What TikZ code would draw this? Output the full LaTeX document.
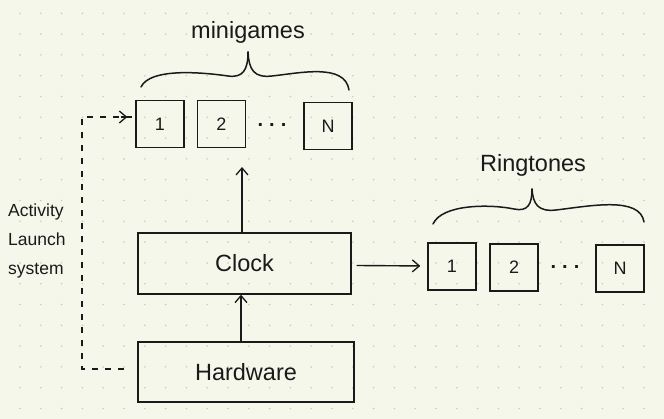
\documentclass[tikz,border=0pt]{standalone}
\usepackage{fontspec}
\setmainfont{Liberation Sans}
\usetikzlibrary{arrows.meta}
\definecolor{bg}{HTML}{F4F7EA}
\definecolor{gdot}{HTML}{C9CCBE}
\definecolor{ink}{HTML}{1A1A1A}
\tikzset{
  box/.style={draw=ink, line width=1.4pt, inner sep=0pt, text=ink},
  sq/.style={box, minimum width=48pt, minimum height=47pt, font=\fontsize{18}{18}\selectfont},
  big/.style={box, font=\fontsize{23.5}{24}\selectfont},
  lbl/.style={text=ink, inner sep=0pt, font=\fontsize{23.5}{24}\selectfont},
  ell/.style={text=ink, inner sep=0pt, font=\fontsize{20}{20}\selectfont\bfseries},
  conn/.style={draw=ink, line width=1.4pt, -{Straight Barb[length=7pt,width=12pt,line width=1.3pt]}},
  dconn/.style={draw=ink, line width=1.4pt, dash pattern=on 6pt off 7pt},
  brace/.style={draw=ink, line width=1.5pt, line cap=round}
}
\begin{document}
\begin{tikzpicture}[x=1pt,y=-1pt]
\useasboundingbox (0,0) rectangle (664,419);
\fill[bg] (0,0) rectangle (664,419);
\foreach \i in {0,...,31}{\foreach \j in {0,...,19}{
  \fill[gdot] ({20+20.8*\i},{13.3+20.8*\j}) circle (0.9pt);}}

% minigames
\node[sq] (m1) at (160,124) {1};
\node[sq] (m2) at (221.5,124) {2};
\node[ell] (mdots) at (272,125) {.\hspace{6pt}.\hspace{6pt}.};
\node[sq] (mN) at (328,126) {N};
\node[lbl] (mlabel) at (248,32) {minigames};
\draw[brace] (141,87) .. controls (150,68) and (200,72) .. (228,76) .. controls (243,78) and (248,70) .. (248,52);
\draw[brace] (248,52) .. controls (249,70) and (254,78) .. (272,76) .. controls (300,73) and (345,63) .. (349,90);

% ringtones
\node[sq] (r1) at (452,266.5) {1};
\node[sq] (r2) at (514,267.5) {2};
\node[ell] (rdots) at (565,267) {.\hspace{6pt}.\hspace{6pt}.};
\node[sq] (rN) at (620,268.5) {N};
\node[lbl] (rlabel) at (533,165) {Ringtones};
\draw[brace] (433,224) .. controls (442,204) and (490,204) .. (514,209) .. controls (528,212) and (532,204) .. (532,189);
\draw[brace] (532,189) .. controls (533,204) and (538,212) .. (556,210) .. controls (590,206) and (640,196) .. (644,222);

% main boxes
\node[big, minimum width=213pt, minimum height=61pt] (clock) at (244.5,263.5) {Clock};
\node[big, minimum width=216pt, minimum height=60pt] (hw) at (246,372) {Hardware};

\coordinate (mtarget) at (242,167);
\draw[conn] (hw.north -| 241,0) -- (clock.south -| 241,0);
\draw[conn] (clock.north -| 242,0) -- (mtarget);
\draw[conn, shorten >=7pt] (clock.east) ++(5,2) -- (r1.west |- 0,266);

% activity launch system
\node[text=ink, inner sep=0pt, align=left, font=\fontsize{17.5}{29}\selectfont, anchor=west] (als) at (8,241) {Activity\\Launch\\system};
\coordinate (ds) at (124,369);
\coordinate (dc1) at (82,369);
\coordinate (dc2) at (82,117);
\draw[dconn] (ds) -- (dc1) -- (dc2) -- (m1.west |- dc2);
\draw[conn] ([xshift=-14pt]m1.west |- dc2) -- ([xshift=-8pt]m1.west |- dc2);
\end{tikzpicture}
\end{document}
